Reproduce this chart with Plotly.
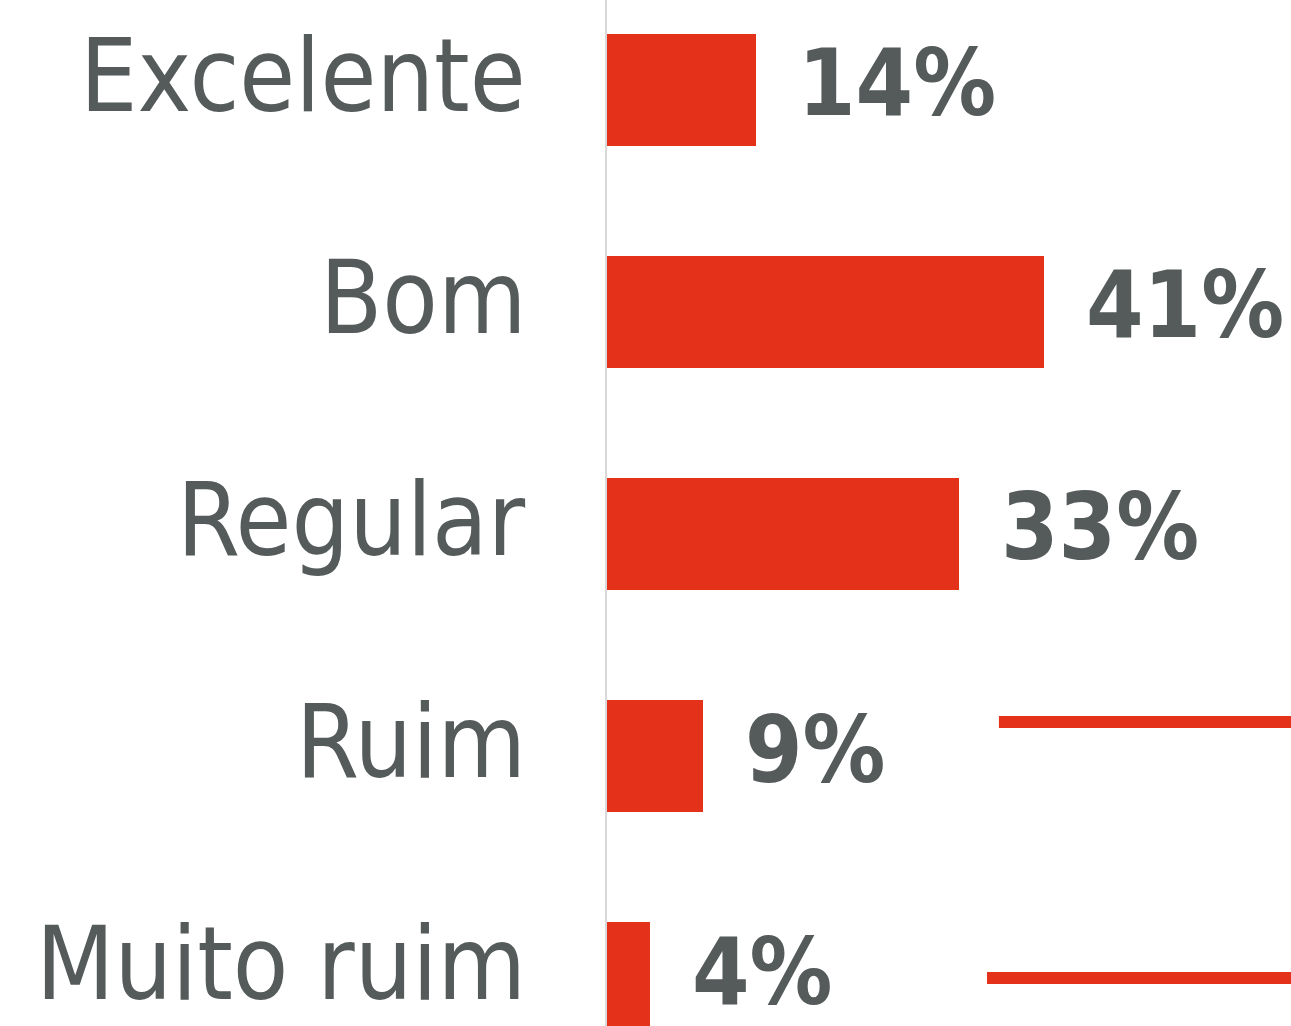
import plotly.graph_objects as go

# Survey rating distribution
categories = ["Excelente", "Bom", "Regular", "Ruim", "Muito ruim"]
shares = [14, 41, 33, 9, 4]
value_labels = ["14%", "41%", "33%", "9%", "4%"]

BAR_RED = "#E3311A"
TEXT_GRAY = "#555B5A"
FONT = "DejaVu Sans Condensed"

fig = go.Figure()
fig.add_trace(go.Bar(
    x=shares,
    y=categories,
    orientation="h",
    marker=dict(color=BAR_RED, line=dict(width=0)),
    width=0.505,
    hoverinfo="skip",
))

# category names, right-aligned to the left of the axis
for cat in categories:
    fig.add_annotation(
        x=0, y=cat, xref="x", yref="y",
        text=cat, showarrow=False,
        xanchor="right", yanchor="middle",
        xshift=-79, yshift=14,
        font=dict(family=FONT, size=101, color=TEXT_GRAY),
    )

# percentage labels beside each bar
for cat, v, lab in zip(categories, shares, value_labels):
    fig.add_annotation(
        x=v, y=cat, xref="x", yref="y",
        text="<b>" + lab + "</b>", showarrow=False,
        xanchor="left", yanchor="middle",
        xshift=40, yshift=6,
        font=dict(family=FONT, size=92, color=TEXT_GRAY),
    )

# decorative red rules on the right
for x0, y0 in [(0.573, 0.2963), (0.5556, 0.0468)]:
    fig.add_shape(
        type="line", xref="paper", yref="paper",
        x0=x0, x1=1.0, y0=y0, y1=y0,
        line=dict(color=BAR_RED, width=12),
    )

fig.update_layout(
    width=1291, height=1026,
    margin=dict(l=607, r=0, t=0, b=0),
    paper_bgcolor="white", plot_bgcolor="white",
    showlegend=False,
    bargap=0,
)
fig.update_xaxes(range=[0, 64.2], visible=False, fixedrange=True)
fig.update_yaxes(
    categoryorder="array", categoryarray=categories,
    range=[4.216, -0.405],
    showticklabels=False, showgrid=False, zeroline=False,
    showline=True, linecolor="#D9D9D9", linewidth=2,
    ticks="", fixedrange=True,
)

fig.write_html("out.html")
